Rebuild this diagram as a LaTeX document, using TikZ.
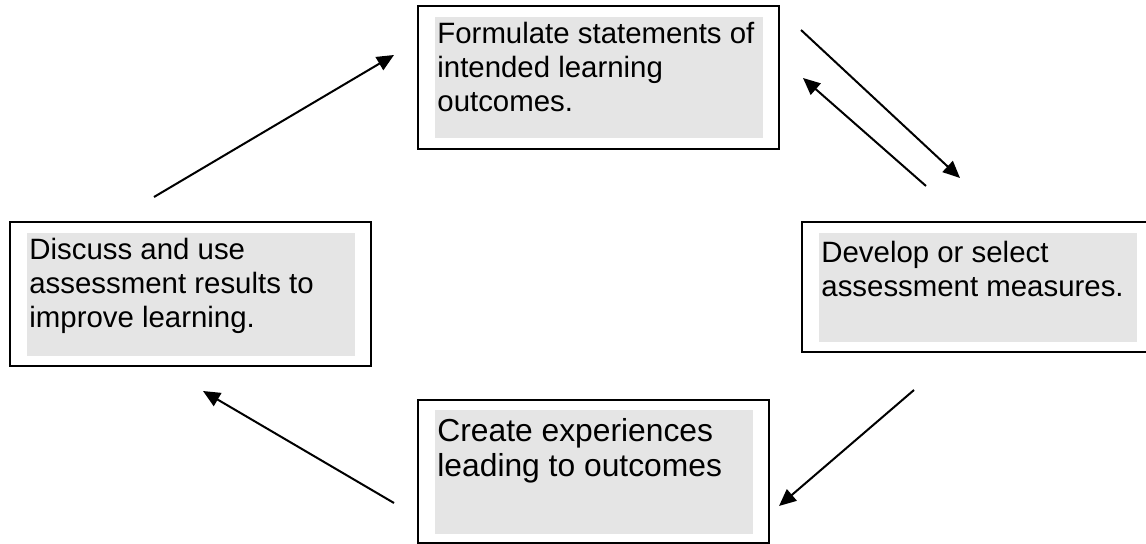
\documentclass[tikz,border=0pt]{standalone}
\usepackage{fontspec}
\setmainfont{Liberation Sans}
\usetikzlibrary{arrows.meta}

\tikzset{
  frame/.style={draw, line width=1.1pt},
  panel/.style={fill=black!10},
  words/.style={anchor=base west, inner sep=0pt, align=left,
    font=\fontsize{14.7}{17}\selectfont},
  bigwords/.style={words, font=\fontsize{15.9}{17.6}\selectfont},
  cycle/.style={line width=1pt, -{Triangle[length=8.5pt, width=7.5pt]}}
}

\begin{document}
\begin{tikzpicture}[x=0.5pt, y=-0.5pt]
  \clip (0,0) rectangle (1146,544);
  % frames and grey panels
  \draw[frame] (418,6) rectangle (779,149);
  \fill[panel] (435,17) rectangle (763,138);
  \draw[frame] (10,222) rectangle (371,366);
  \fill[panel] (27,233) rectangle (355,356);
  \draw[frame] (802,222) rectangle (1156,352);
  \fill[panel] (819,233) rectangle (1137,342);
  \draw[frame] (418,400) rectangle (769,543);
  \fill[panel] (435,410) rectangle (753,534);
  % texts (placed on their last baseline)
  \node[words] (outcomes) at (437,112) {Formulate statements of\\intended learning\\outcomes.};
  \node[words] (results) at (29,328) {Discuss and use\\assessment results to\\improve learning.};
  \node[words] (measures) at (821,297) {Develop or select\\assessment measures.};
  \node[bigwords] (experiences) at (437,477) {Create experiences\\leading to outcomes};
  % arrow ends
  \coordinate (results-out) at (154,197);
  \coordinate (outcomes-in) at (394,55);
  \coordinate (outcomes-out) at (801,30);
  \coordinate (measures-in) at (960,178);
  \coordinate (measures-back) at (926,186);
  \coordinate (outcomes-back) at (803,78);
  \coordinate (measures-out) at (914,390);
  \coordinate (experiences-in) at (779,506);
  \coordinate (experiences-out) at (394,503);
  \coordinate (results-in) at (203,391);
  \draw[cycle] (results-out) -- (outcomes-in);
  \draw[cycle] (outcomes-out) -- (measures-in);
  \draw[cycle] (measures-back) -- (outcomes-back);
  \draw[cycle] (measures-out) -- (experiences-in);
  \draw[cycle] (experiences-out) -- (results-in);
\end{tikzpicture}
\end{document}
